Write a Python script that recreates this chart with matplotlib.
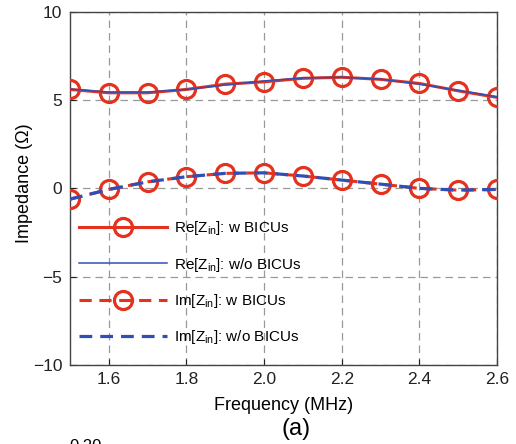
import matplotlib
matplotlib.use("Agg")
import matplotlib.pyplot as plt

plt.rcParams['font.family'] = ['Liberation Sans', 'DejaVu Sans']
plt.rcParams['mathtext.fontset'] = 'custom'
plt.rcParams['mathtext.rm'] = 'Liberation Sans'
plt.rcParams['mathtext.it'] = 'Liberation Sans'

freq = [1.5, 1.6, 1.7, 1.8, 1.9, 2.0, 2.1, 2.2, 2.3, 2.4, 2.5, 2.6]
re_w = [5.60, 5.41, 5.41, 5.60, 5.90, 6.03, 6.23, 6.29, 6.17, 5.94, 5.52, 5.15]
re_wo = [5.62, 5.45, 5.45, 5.60, 5.85, 6.08, 6.25, 6.29, 6.18, 5.90, 5.55, 5.18]
im_w = [-0.61, -0.06, 0.37, 0.66, 0.85, 0.88, 0.70, 0.47, 0.24, 0.00, -0.10, -0.06]
im_wo = [-0.61, -0.06, 0.37, 0.66, 0.85, 0.88, 0.70, 0.47, 0.24, 0.00, -0.10, -0.06]

xticks = [1.6, 1.8, 2.0, 2.2, 2.4, 2.6]
yticks = [-10, -5, 0, 5, 10]

RED = '#e5321f'
BLUE = '#2f4fb6'

fig = plt.figure(figsize=(5.16, 4.44), dpi=100)
ax = fig.add_axes([0.1357, 0.1779, 0.8275, 0.7957])

ax.plot(freq, re_w, color=RED, lw=2.2, marker='o', ms=13, mfc='none', mec=RED, mew=2.3,
        label=r'Re[$Z_{\rm in}$]: w BICUs', zorder=3)
ax.plot(freq, re_wo, color=BLUE, lw=1.1, label=r'Re[$Z_{\rm in}$]: w/o BICUs', zorder=4)
ax.plot(freq, im_w, color=RED, lw=2.2, ls=(0, (4, 2.5)), marker='o', ms=13, mfc='none', mec=RED, mew=2.3,
        label=r'Im[$Z_{\rm in}$]: w BICUs', zorder=3)
ax.plot(freq, im_wo, color=BLUE, lw=2.3, ls=(0, (4, 2.5)), label=r'Im[$Z_{\rm in}$]: w/o BICUs', zorder=4)

ax.set_xlim(1.5, 2.6)
ax.set_ylim(-10, 10)
ax.set_xticks(xticks)
ax.set_xticklabels(['%.1f' % v for v in xticks])
ax.set_yticks(yticks)
ax.set_yticklabels(['\u221210', '\u22125', '0', '5', '10'])
ax.tick_params(direction='in', length=4, width=0.8, labelsize=12.5, colors='#222222')
ax.tick_params(axis='x', pad=5)
ax.tick_params(axis='y', pad=5.5)
for s in ax.spines.values():
    s.set_color('#444444')
    s.set_linewidth(1.0)
ax.grid(True, color='#999999', ls=(0, (6, 4)), lw=0.9)
ax.set_axisbelow(True)

ax.set_xlabel('Frequency (MHz)', fontsize=13, labelpad=7)
ax.set_ylabel('Impedance (\u03a9)', fontsize=13)
ax.yaxis.set_label_coords(-0.087, 0.515)

leg = ax.legend(loc='upper left', bbox_to_anchor=(-0.005, 0.443), frameon=False, fontsize=11,
                handlelength=5.8, labelspacing=1.2, handletextpad=0.45, borderaxespad=0.3)

fig.text(0.574, 0.033, '(a)', fontsize=17, ha='center', va='center')
fig.text(0.165, -0.006, '0.20', fontsize=12, ha='center', va='center')

fig.savefig('out.png', dpi=100)
